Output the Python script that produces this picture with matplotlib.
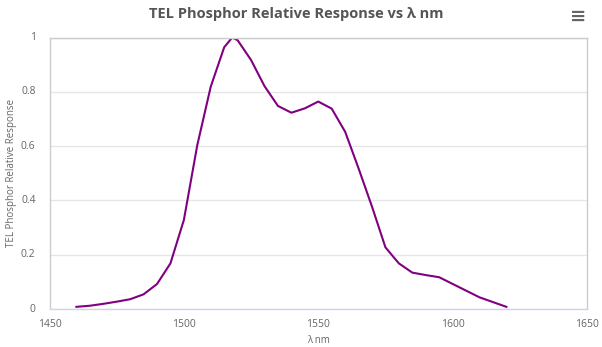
import matplotlib
matplotlib.use("Agg")
import matplotlib.pyplot as plt

# wavelength (nm) and relative response
wavelength = [1460, 1465, 1470, 1475, 1480, 1485, 1490, 1495, 1500, 1505,
              1510, 1515, 1518, 1520, 1525, 1530, 1535, 1540, 1545, 1550,
              1555, 1560, 1565, 1570, 1575, 1580, 1585, 1590, 1595, 1610,
              1620]
response = [0.008, 0.012, 0.019, 0.027, 0.036, 0.054, 0.092, 0.168, 0.328, 0.604,
            0.819, 0.964, 1.0, 0.99, 0.917, 0.821, 0.748, 0.723, 0.739, 0.764,
            0.738, 0.653, 0.518, 0.377, 0.227, 0.168, 0.134, 0.125, 0.117, 0.043,
            0.008]

x_ticks = [1450, 1500, 1550, 1600, 1650]
y_ticks = [0, 0.2, 0.4, 0.6, 0.8, 1]
y_tick_labels = ["0", "0.2", "0.4", "0.6", "0.8", "1"]

plt.rcParams['font.family'] = ['Open Sans', 'DejaVu Sans']

fig = plt.figure(figsize=(6.02, 3.47), dpi=100)
ax = fig.add_axes([49.5 / 602, 1 - 309 / 347, (587 - 49.5) / 602, (309 - 37.5) / 347])

ax.plot(wavelength, response, color='#800080', lw=1.5, solid_joinstyle='round')

ax.set_xlim(1450, 1650)
ax.set_ylim(0, 1)
ax.set_xticks(x_ticks)
ax.set_yticks(y_ticks)
ax.set_yticklabels(y_tick_labels)
ax.tick_params(axis='both', length=0, labelsize=7.5, colors='#666666')
ax.tick_params(axis='x', pad=7)
ax.tick_params(axis='y', pad=10)
for lab in ax.get_yticklabels():
    lab.set_verticalalignment('center')

ax.grid(axis='y', color='#e6e6e6', lw=1)
ax.set_axisbelow(True)
for side in ['left', 'right', 'top']:
    ax.spines[side].set_color('#cccccc')
    ax.spines[side].set_linewidth(1)
ax.spines['bottom'].set_color('#ccd6eb')
ax.spines['bottom'].set_linewidth(1)

ax.set_xlabel('λ nm', fontsize=7, color='#666666', labelpad=4)
ax.set_ylabel('TEL Phosphor Relative Response', fontsize=7, color='#666666', labelpad=3)

fig.text(0.492, 1 - 14 / 347, 'TEL Phosphor Relative Response vs λ nm', ha='center', va='center',
         fontsize=10.5, fontweight='bold', color='#555555')
# export menu icon
fig.text(578 / 602, 1 - 16 / 347, '≡', ha='center', va='center', fontsize=14,
         fontweight='bold', color='#666666', family='DejaVu Sans')

fig.savefig('out.png', dpi=100)
